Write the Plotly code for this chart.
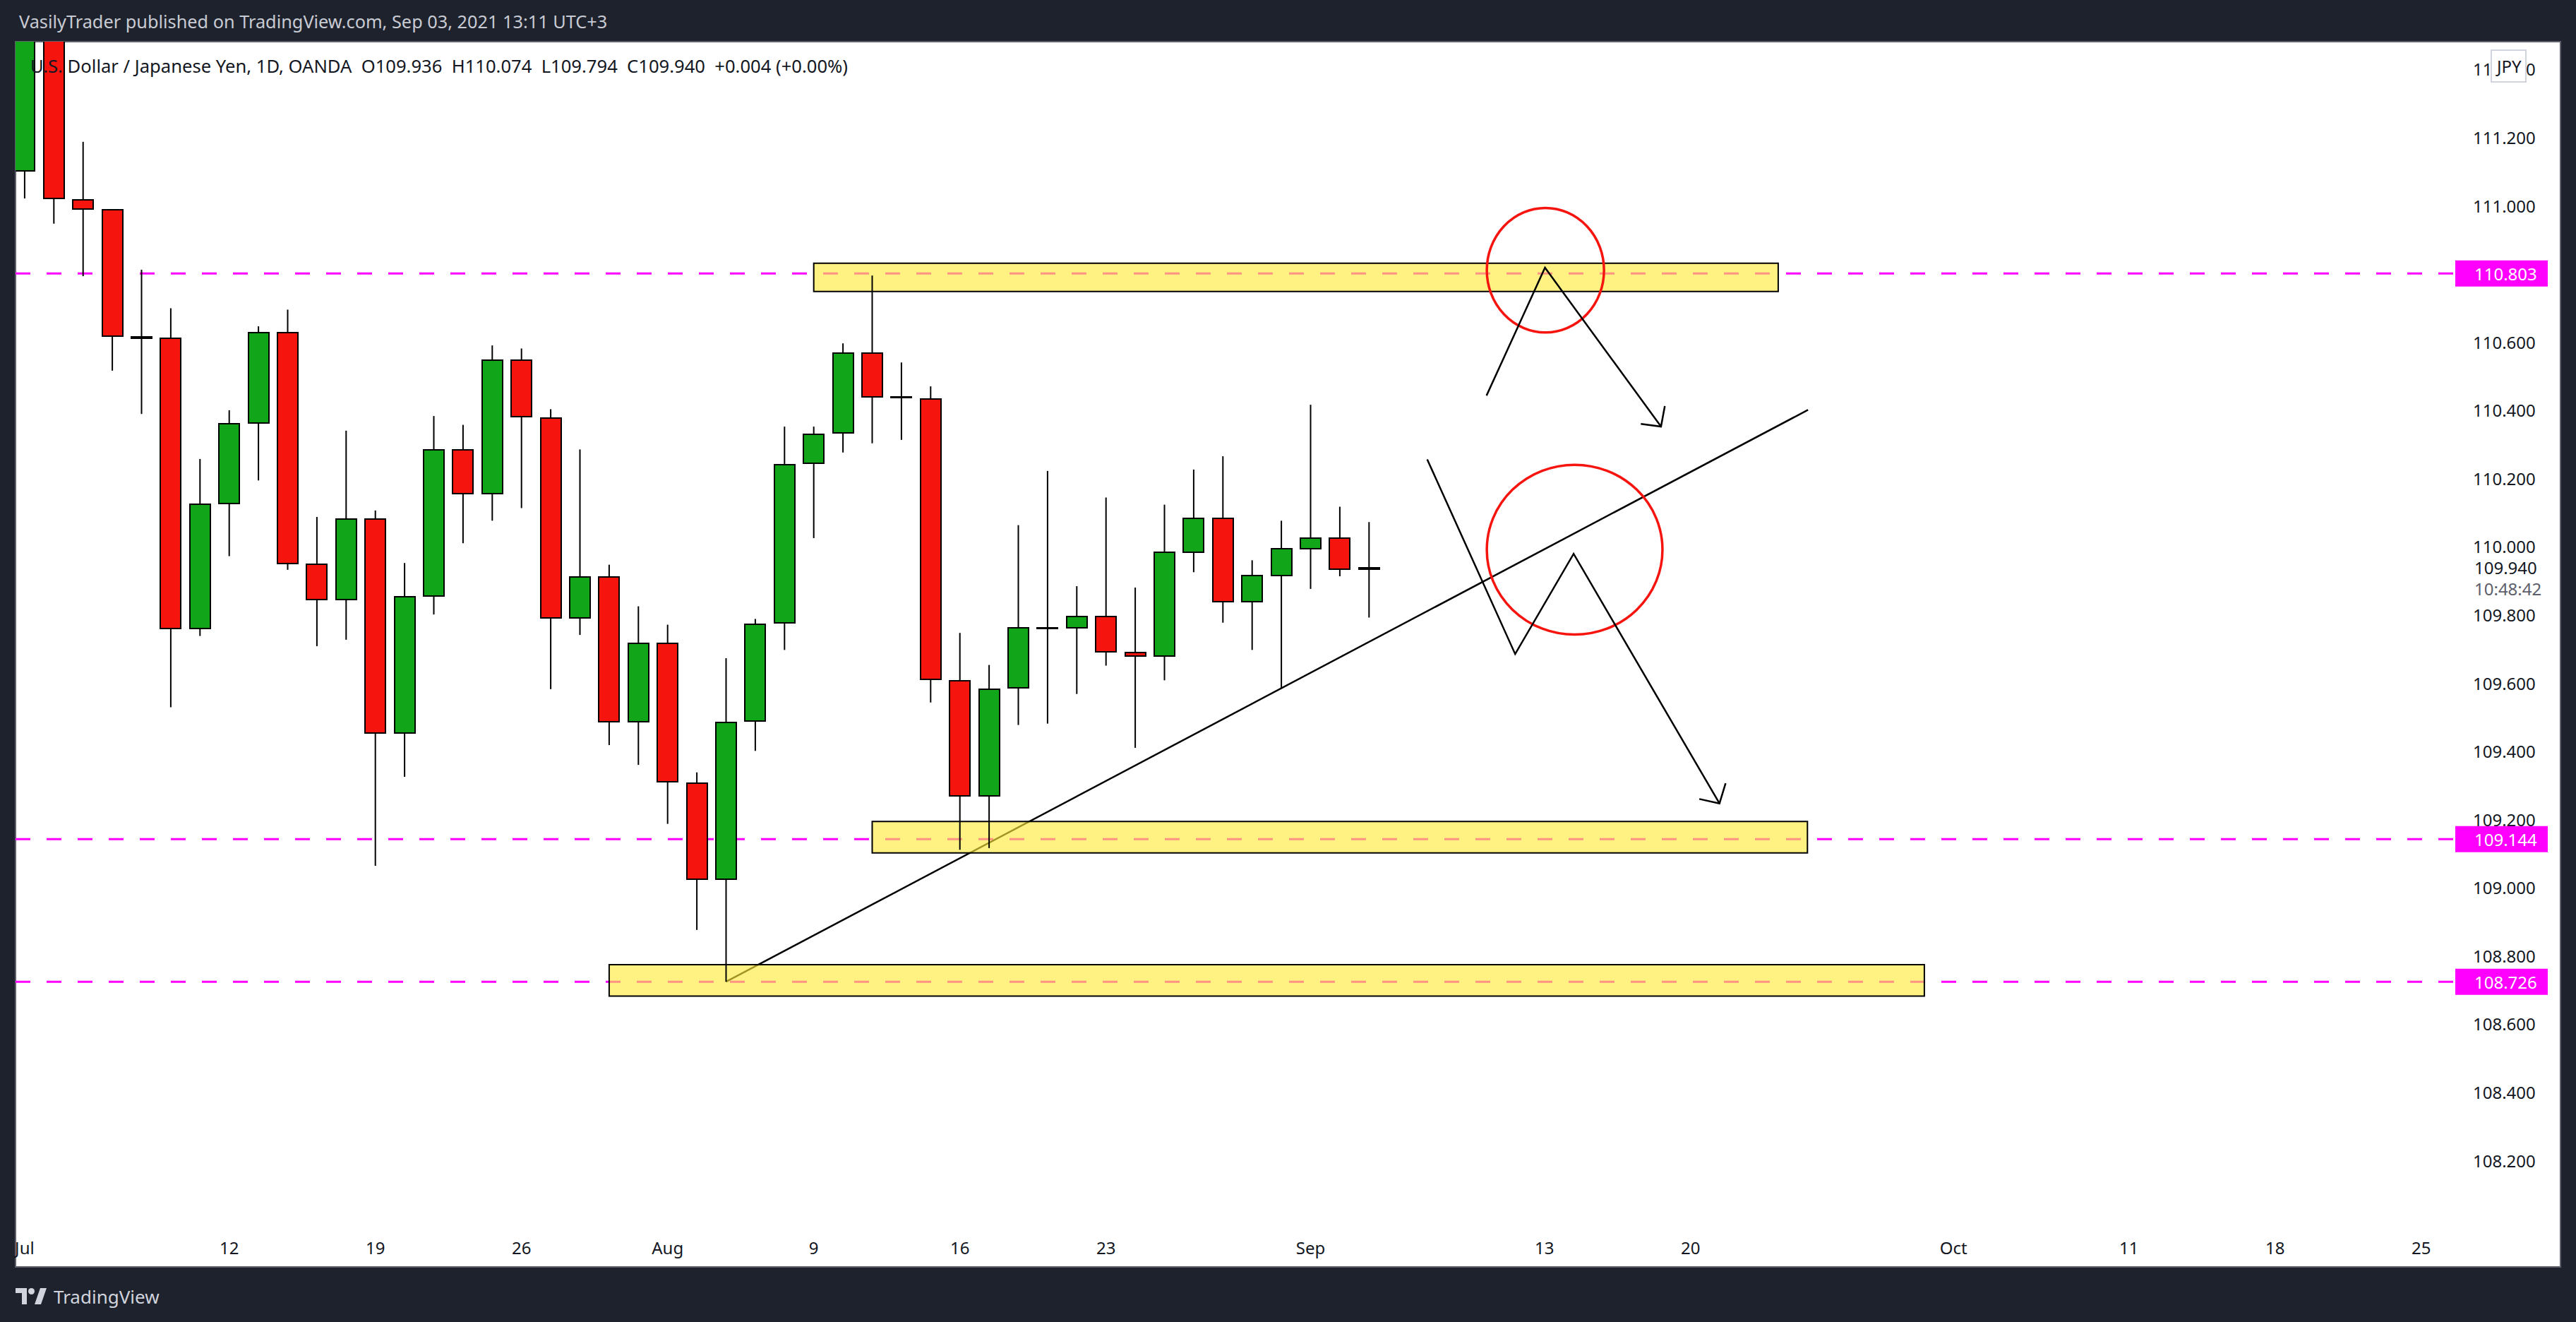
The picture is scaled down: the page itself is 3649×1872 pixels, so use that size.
import plotly.graph_objects as go
import pandas as pd

# ---------------- data ----------------
dates = pd.bdate_range("2021-07-01", "2021-09-03").strftime("%Y-%m-%d").tolist()

opens = [111.104, 111.550, 111.019, 110.990, 110.618, 110.612, 109.762, 110.128, 110.365, 110.629,
         109.951, 109.847, 110.082, 109.455, 109.858, 110.285, 110.158, 110.548, 110.379, 109.793,
         109.913, 109.488, 109.719, 109.308, 109.027, 109.490, 109.779, 110.246, 110.335, 110.570,
         110.441, 110.435, 109.608, 109.272, 109.588, 109.764, 109.764, 109.797, 109.692, 109.681,
         109.986, 110.084, 109.840, 109.917, 109.995, 110.026, 109.936]
highs = [111.660, 111.600, 111.189, 110.990, 110.814, 110.701, 110.259, 110.402, 110.648, 110.697,
         110.089, 110.342, 110.108, 109.954, 110.385, 110.359, 110.592, 110.583, 110.405, 110.287,
         109.949, 109.827, 109.773, 109.340, 109.675, 109.790, 110.354, 110.354, 110.598, 110.797,
         110.542, 110.472, 109.749, 109.655, 110.065, 110.224, 109.886, 110.146, 109.882, 110.125,
         110.228, 110.267, 109.962, 110.078, 110.418, 110.119, 110.074]
lows = [111.023, 110.949, 110.795, 110.518, 110.391, 109.531, 109.740, 109.974, 110.196, 109.934,
        109.710, 109.729, 109.066, 109.327, 109.803, 110.012, 110.078, 110.115, 109.584, 109.743,
        109.420, 109.362, 109.189, 108.878, 108.726, 109.403, 109.699, 110.027, 110.278, 110.305,
        110.315, 109.545, 109.113, 109.118, 109.479, 109.483, 109.570, 109.653, 109.412, 109.610,
        109.927, 109.779, 109.699, 109.588, 109.878, 109.915, 109.794]
closes = [111.550, 111.023, 110.992, 110.620, 110.614, 109.762, 110.126, 110.363, 110.629, 109.952,
          109.847, 110.082, 109.455, 109.855, 110.285, 110.158, 110.548, 110.383, 109.793, 109.913,
          109.488, 109.719, 109.312, 109.027, 109.486, 109.775, 110.243, 110.331, 110.570, 110.442,
          110.439, 109.612, 109.272, 109.584, 109.764, 109.762, 109.797, 109.694, 109.681, 109.986,
          110.084, 109.840, 109.917, 109.995, 110.026, 109.936, 109.940]

tick_dates = ["2021-07-01", "2021-07-12", "2021-07-19", "2021-07-26", "2021-08-02", "2021-08-09",
              "2021-08-16", "2021-08-23", "2021-09-01", "2021-09-13", "2021-09-20", "2021-10-01",
              "2021-10-11", "2021-10-18", "2021-10-25"]
tick_text = ["Jul", "12", "19", "26", "Aug", "9", "16", "23", "Sep", "13", "20", "Oct", "11", "18", "25"]

price_ticks = [108.2, 108.4, 108.6, 108.8, 109.0, 109.2, 109.4, 109.6, 109.8, 110.0,
               110.2, 110.4, 110.6, 110.8, 111.0, 111.2, 111.4]

levels = [110.803, 109.144, 108.726]

zone_start = ["2021-08-09", "2021-08-11", "2021-07-29"]
zone_end = ["2021-09-23", "2021-09-24", "2021-09-30"]
zone_low = [110.750, 109.104, 108.684]
zone_high = [110.833, 109.196, 108.776]

# drawings anchored in bar units (bars since 1 Jul) and price
trend_bars = [24, 61.02]
trend_prices = [108.726, 110.403]
ellipse1_bars = [50.03, 54.04]
ellipse1_prices = [110.630, 110.995]
ellipse2_bars = [50.03, 56.04]
ellipse2_prices = [109.744, 110.242]
path1_bars = [50.02, 52.02, 55.99]
path1_prices = [110.445, 110.820, 110.354]
head1_bars = [55.30, 55.99, 56.12]
head1_prices = [110.362, 110.354, 110.414]
path2_bars = [47.99, 51.00, 53.00, 57.99]
path2_prices = [110.258, 109.687, 109.981, 109.249]
head2_bars = [57.30, 57.99, 58.20]
head2_prices = [109.262, 109.249, 109.308]

symbol_title = "U.S. Dollar / Japanese Yen, 1D, OANDA"
countdown = "10:48:42"

# ---------------- layout constants ----------------
W, H = 3649, 1872
PL, PR, PT, PB = 22, 3476, 59, 1745
WHITE_R, WHITE_B = 3627, 1794
BAR0_PX, BAR_STEP = 34.9, 41.4
Y_TOP, Y_BOT = 111.4827, 107.9913
FONT = "Noto Sans"
DARK = "#1e222d"
TXT = "#131722"
UP, DOWN = "#11a51a", "#f5140e"
MAGENTA = "#ff00ff"


def fx(px):
    return (px - PL) / (PR - PL)


def fy(py):
    return (PB - py) / (PB - PT)


calendar = pd.bdate_range("2021-07-01", "2021-11-30").strftime("%Y-%m-%d").tolist()
bar_of = {d: i for i, d in enumerate(calendar)}
xs = [bar_of[d] for d in dates]

fig = go.Figure()

# candle bodies
body_base = [min(o, c) for o, c in zip(opens, closes)]
body_h = [max(abs(c - o), 0.0006) for o, c in zip(opens, closes)]
body_col = [UP if c >= o else DOWN for o, c in zip(opens, closes)]
fig.add_trace(go.Bar(x=xs, y=body_h, base=body_base, width=0.70,
                     marker=dict(color=body_col, line=dict(color="black", width=2)),
                     hoverinfo="skip", showlegend=False))

# wicks
wx, wy = [], []
for xi, o, h, l, c in zip(xs, opens, highs, lows, closes):
    top, bot = max(o, c), min(o, c)
    wx += [xi, xi, None, xi, xi, None]
    wy += [h, top, None, bot, l, None]
fig.add_trace(go.Scatter(x=wx, y=wy, mode="lines", line=dict(color="black", width=2),
                         hoverinfo="skip", showlegend=False))

shapes = []
# white chart panel
shapes.append(dict(type="rect", xref="paper", yref="paper", x0=fx(PL), x1=fx(WHITE_R),
                   y0=fy(WHITE_B), y1=fy(PT), fillcolor="white",
                   line=dict(color="#5d606b", width=2), layer="below"))
# horizontal levels
for lv in levels:
    shapes.append(dict(type="line", xref="paper", yref="y", x0=0, x1=1, y0=lv, y1=lv,
                       line=dict(color=MAGENTA, width=3, dash="21px,23px"), layer="below"))
# trend line
shapes.append(dict(type="line", xref="x", yref="y", x0=trend_bars[0], x1=trend_bars[1],
                   y0=trend_prices[0], y1=trend_prices[1],
                   line=dict(color="black", width=2.5), layer="below"))
# zones
for s, e, lo, hi in zip(zone_start, zone_end, zone_low, zone_high):
    shapes.append(dict(type="rect", xref="x", yref="y", x0=bar_of[s], x1=bar_of[e], y0=lo, y1=hi,
                       fillcolor="rgba(255,235,59,0.63)", line=dict(color="black", width=2),
                       layer="below"))
# ellipses
for bx, py in [(ellipse1_bars, ellipse1_prices), (ellipse2_bars, ellipse2_prices)]:
    shapes.append(dict(type="circle", xref="x", yref="y", x0=bx[0], x1=bx[1], y0=py[0], y1=py[1],
                       line=dict(color="#f5140e", width=3.5), layer="below"))


def svg_path(bars, prices):
    return "M " + " L ".join(f"{b},{p}" for b, p in zip(bars, prices))


for bars, prices in [(path1_bars, path1_prices), (head1_bars, head1_prices),
                     (path2_bars, path2_prices), (head2_bars, head2_prices)]:
    shapes.append(dict(type="path", xref="x", yref="y", path=svg_path(bars, prices),
                       line=dict(color="black", width=2.5), layer="below"))

# level labels on the price scale
for lv in levels:
    shapes.append(dict(type="rect", xref="paper", yref="y", xsizemode="pixel", ysizemode="pixel",
                       xanchor=1, yanchor=lv, x0=2, x1=133, y0=-18.5, y1=18.5,
                       fillcolor=MAGENTA, line=dict(width=0), layer="above"))


# TradingView logo (bottom left)
def pxpath(pts):
    return "M " + " L ".join(f"{fx(a)},{fy(b)}" for a, b in pts) + " Z"


LOGO = "#d1d4dc"
shapes.append(dict(type="path", xref="paper", yref="paper",
                   path=pxpath([(22, 1824), (38, 1824), (38, 1847), (31, 1847), (31, 1831), (22, 1831)]),
                   fillcolor=LOGO, line=dict(width=0)))
shapes.append(dict(type="circle", xref="paper", yref="paper", x0=fx(40), x1=fx(49),
                   y0=fy(1833), y1=fy(1824), fillcolor=LOGO, line=dict(width=0)))
shapes.append(dict(type="path", xref="paper", yref="paper",
                   path=pxpath([(49, 1847), (57, 1824), (66, 1824), (58, 1847)]),
                   fillcolor=LOGO, line=dict(width=0)))

annotations = []
annotations.append(dict(xref="paper", yref="paper", x=fx(25), y=fy(30), xanchor="left", yanchor="middle",
                        text="VasilyTrader published on TradingView.com, Sep 03, 2021 13:11 UTC+3",
                        showarrow=False, font=dict(family=FONT, size=25.3, color="#c8cbd3")))
legend_txt = (f"{symbol_title}  O{opens[-1]:.3f}  H{highs[-1]:.3f}  L{lows[-1]:.3f}  "
              f"C{closes[-1]:.3f}  +{closes[-1]-opens[-1]:.3f} (+0.00%)")
annotations.append(dict(xref="paper", yref="paper", x=fx(41), y=fy(93), xanchor="left", yanchor="middle",
                        text=legend_txt, showarrow=False, font=dict(family=FONT, size=25.6, color=TXT)))
annotations.append(dict(xref="paper", yref="paper", x=fx(3553), y=fy(93), xanchor="center", yanchor="middle",
                        text="JPY", showarrow=False, bgcolor="white", bordercolor="#d1d4dc", borderwidth=2,
                        borderpad=5, font=dict(family=FONT, size=24, color=TXT)))
for lv in levels:
    annotations.append(dict(xref="paper", yref="y", x=1, y=lv, xanchor="left", yanchor="middle", xshift=27,
                            text=f"{lv:.3f}", showarrow=False, font=dict(family=FONT, size=24, color="white")))
annotations.append(dict(xref="paper", yref="y", x=1, y=closes[-1], xanchor="left", yanchor="middle", xshift=27,
                        text=f"{closes[-1]:.3f}", showarrow=False, font=dict(family=FONT, size=24, color=TXT)))
annotations.append(dict(xref="paper", yref="y", x=1, y=closes[-1], xanchor="left", yanchor="middle", xshift=27,
                        yshift=-30, text=countdown, showarrow=False,
                        font=dict(family=FONT, size=24, color="#5d606b")))
annotations.append(dict(xref="paper", yref="paper", x=fx(74), y=fy(1836), xanchor="left", yanchor="middle",
                        text="TradingView", showarrow=False, font=dict(family=FONT, size=26, color=LOGO)))

fig.update_layout(
    width=W, height=H, autosize=False,
    margin=dict(l=PL, r=W - PR, t=PT, b=H - PB, pad=0),
    paper_bgcolor=DARK, plot_bgcolor="white",
    showlegend=False, bargap=0, hovermode=False,
    shapes=shapes, annotations=annotations,
    xaxis=dict(range=[(PL - BAR0_PX) / BAR_STEP, (PR - BAR0_PX) / BAR_STEP],
               tickvals=[bar_of[d] for d in tick_dates], ticktext=tick_text,
               showgrid=False, zeroline=False, showline=False, ticks="",
               ticklabelstandoff=6, tickfont=dict(family=FONT, size=24, color=TXT)),
    yaxis=dict(range=[Y_BOT, Y_TOP], side="right", tickvals=price_ticks,
               ticktext=[f"{p:.3f}" for p in price_ticks],
               showgrid=False, zeroline=False, showline=False, ticks="",
               ticklabelstandoff=26, tickfont=dict(family=FONT, size=24, color=TXT)),
)

fig.write_html("out.html", include_plotlyjs=True, config={"displayModeBar": False},
               post_script="document.body.style.margin='0';document.body.style.overflow='hidden';")
